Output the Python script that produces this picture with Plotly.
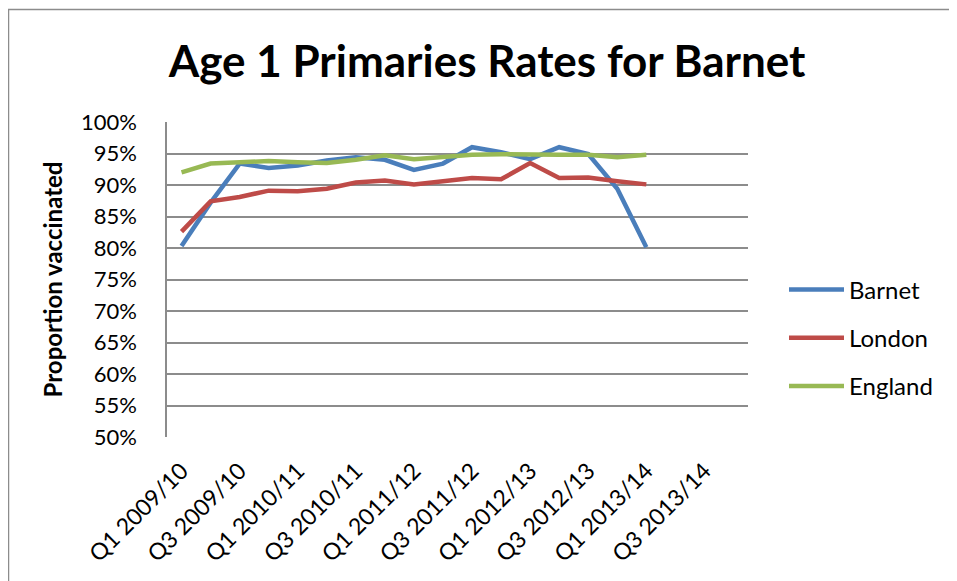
import plotly.graph_objects as go

quarters = []
for yr in ["2009/10", "2010/11", "2011/12", "2012/13", "2013/14"]:
    for q in ["Q1", "Q2", "Q3", "Q4"]:
        quarters.append(f"{q} {yr}")

barnet = [80.3, 87.2, 93.4, 92.7, 93.1, 93.9, 94.4, 94.0, 92.4, 93.4, 96.0,
          95.2, 94.1, 96.0, 94.9, 89.4, 80.1]
london = [82.6, 87.4, 88.1, 89.1, 89.0, 89.4, 90.4, 90.7, 90.1, 90.6, 91.1,
          90.9, 93.5, 91.1, 91.2, 90.6, 90.1]
england = [92.0, 93.4, 93.6, 93.8, 93.6, 93.5, 94.0, 94.7, 94.1, 94.4, 94.8,
           94.9, 94.8, 94.8, 94.8, 94.4, 94.8]

series = [("Barnet", barnet, "#4A7EBB"), ("London", london, "#BE4B48"), ("England", england, "#98B954")]

FONT = "Lato, 'Noto Sans', sans-serif"
W, H = 957, 581
OFF = 8  # page body margin
L, R, T, B = 167 - OFF, 748 - OFF, 122 - OFF, 437 - OFF

fig = go.Figure()
for i, (name, vals, col) in enumerate(series):
    fig.add_trace(go.Scatter(
        x=quarters[:len(vals)], y=vals, name=name, mode="lines",
        line=dict(color=col, width=4.5), legendgroup=f"g{i}"))

pw, ph = R - L, B - T
def px_x(p): return (p - OFF - L) / pw   # p = page pixel
def px_y(p): return (B - (p - OFF)) / ph

fig.update_layout(
    width=W, height=H,
    margin=dict(l=L, r=W - R, t=T, b=H - B, pad=0),
    paper_bgcolor="white", plot_bgcolor="white",
    font=dict(family=FONT, color="black", size=22),
    title=dict(text="<b>Age 1 Primaries Rates for Barnet</b>", x=(487 - OFF) / W, xanchor="center",
               y=1 - (62 - OFF) / H, yanchor="middle", font=dict(size=44, family=FONT)),
    showlegend=True,
    legend=dict(x=px_x(784), y=px_y(338), xanchor="left", yanchor="middle",
                font=dict(size=24), tracegroupgap=14, itemwidth=55,
                bgcolor="rgba(0,0,0,0)"),
    xaxis=dict(type="category", categoryorder="array", categoryarray=quarters,
               range=[-0.5, len(quarters) - 0.5],
               tickvals=quarters[::2], ticktext=quarters[::2], tickangle=-45,
               tickfont=dict(size=23), showgrid=False, showline=False, zeroline=False,
               ticks="", ticklabelstandoff=15),
    yaxis=dict(range=[50, 100], dtick=5, ticksuffix="%", showgrid=True,
               gridcolor="#8c8c8c", gridwidth=1.5, showline=True, linecolor="#8c8c8c",
               linewidth=1.5, zeroline=False, ticks="", ticklabelstandoff=24,
               tickfont=dict(size=22),
               title=dict(text="<b>Proportion vaccinated</b>", font=dict(size=24), standoff=12)),
    shapes=[dict(type="rect", xref="paper", yref="paper",
                 x0=px_x(8.5), x1=px_x(1000), y0=px_y(620), y1=px_y(9.5),
                 line=dict(color="#8c8c8c", width=1.5), layer="below")],
)

fig.write_html("out.html")
